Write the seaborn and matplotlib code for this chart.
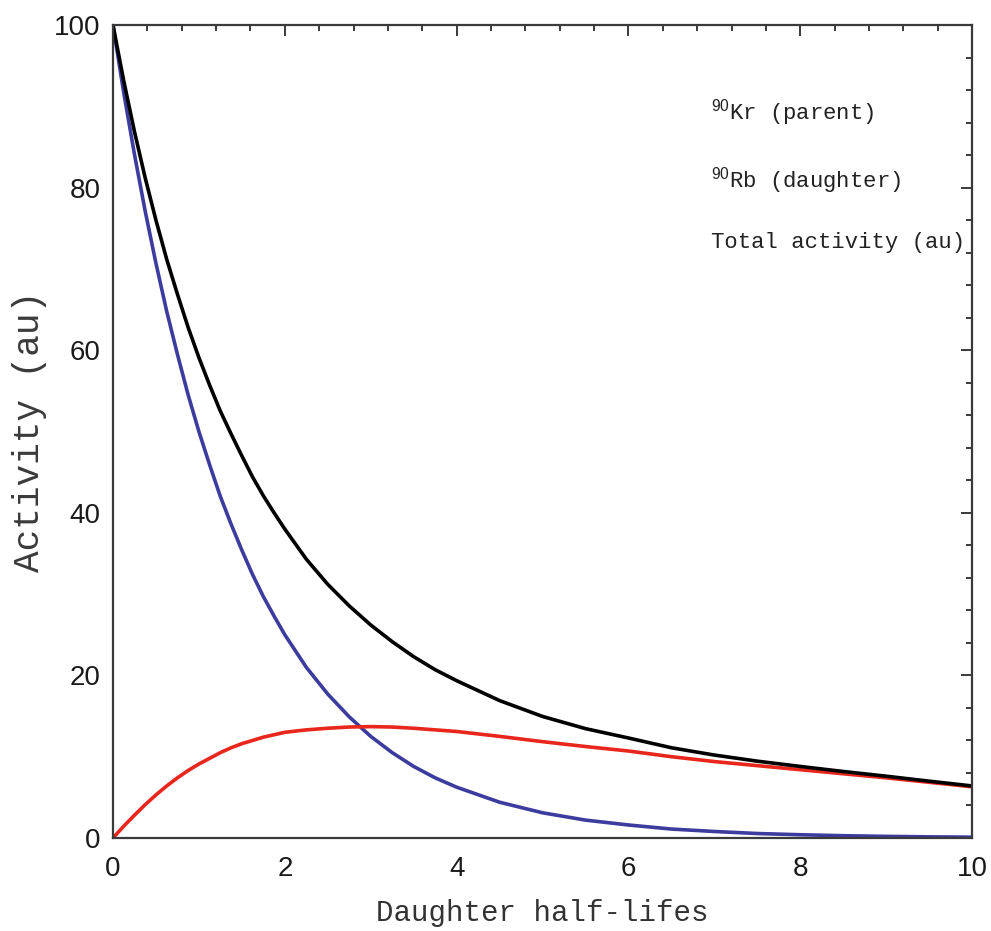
import numpy as np
import pandas as pd
import matplotlib
matplotlib.use("Agg")
import matplotlib.pyplot as plt
import seaborn as sns
from matplotlib.ticker import MultipleLocator

# Data
half_lives = [0, 0.125, 0.25, 0.375, 0.5, 0.625, 0.75, 0.875, 1, 1.125, 1.25,
              1.375, 1.5, 1.625, 1.75, 1.875, 2, 2.25, 2.5, 2.75, 3, 3.25, 3.5,
              3.75, 4, 4.5, 5, 5.5, 6, 6.5, 7, 7.5, 8, 8.5, 9, 9.5, 10]
parent_kr = [100, 91.7, 84.1, 77.1, 70.7, 64.8, 59.5, 54.5, 50.0, 45.9, 42.0,
             38.6, 35.4, 32.4, 29.7, 27.3, 25.0, 21.0, 17.7, 14.9, 12.5, 10.5, 8.8,
             7.4, 6.25, 4.4, 3.1, 2.2, 1.6, 1.1, 0.8, 0.55, 0.4, 0.28, 0.2, 0.14, 0.1]
daughter_rb = [0, 1.45, 2.8, 4.1, 5.3, 6.4, 7.4, 8.3, 9.1, 9.8, 10.5,
               11.1, 11.6, 12.0, 12.4, 12.7, 13.0, 13.3, 13.5, 13.65, 13.7, 13.65, 13.5,
               13.3, 13.1, 12.5, 11.85, 11.25, 10.7, 10.0, 9.4, 8.9, 8.4, 7.9, 7.4, 6.85, 6.3]
total_activity = [100, 93.15, 86.9, 81.2, 76.0, 71.2, 66.9, 62.8, 59.1, 55.7, 52.5,
                  49.7, 47.0, 44.4, 42.1, 40.0, 38.0, 34.3, 31.2, 28.55, 26.2, 24.15, 22.3,
                  20.7, 19.35, 16.9, 14.95, 13.45, 12.3, 11.1, 10.2, 9.45, 8.8, 8.18, 7.6, 6.99, 6.4]

labels = [r"$^{90}$Kr (parent)", r"$^{90}$Rb (daughter)", "Total activity (au)"]
colors = ["#3c3b9e", "#e8261c", "#000000"]

df = pd.concat([
    pd.DataFrame({"x": half_lives, "y": parent_kr, "series": labels[0]}),
    pd.DataFrame({"x": half_lives, "y": daughter_rb, "series": labels[1]}),
    pd.DataFrame({"x": half_lives, "y": total_activity, "series": labels[2]}),
], ignore_index=True)

sns.set_style("white")
plt.rcParams['font.family'] = ['Liberation Sans', 'DejaVu Sans']
plt.rcParams['mathtext.fontset'] = 'custom'
plt.rcParams['mathtext.rm'] = 'Liberation Sans'
plt.rcParams['mathtext.it'] = 'Liberation Sans'

fig = plt.figure(figsize=(9.91, 9.31), dpi=100)
ax = fig.add_axes([0.114, 0.0999, 0.867, 0.8732])

sns.lineplot(data=df, x="x", y="y", hue="series", hue_order=labels,
             palette=dict(zip(labels, colors)), linewidth=2.6, ax=ax,
             sort=False, estimator=None, solid_joinstyle="round",
             solid_capstyle="round")

ax.set_xlim(0, 10)
ax.set_ylim(0, 100)
ax.xaxis.set_major_locator(MultipleLocator(2))
ax.xaxis.set_minor_locator(MultipleLocator(0.4))
ax.yaxis.set_major_locator(MultipleLocator(20))
ax.yaxis.set_minor_locator(MultipleLocator(4))

edge = "#3a3a3a"
for s in ax.spines.values():
    s.set_color(edge)
    s.set_linewidth(1.6)
ax.tick_params(which="both", direction="in", top=True, right=True,
               color=edge, width=1.4, labelsize=20, labelcolor="#1a1a1a")
ax.tick_params(which="major", length=8)
ax.tick_params(which="minor", length=4.5)
ax.tick_params(axis="x", which="major", pad=13)
ax.tick_params(axis="y", which="major", pad=9)

ax.set_xlabel("Daughter half-lifes", family="Liberation Mono", fontsize=21,
              color="#333333", labelpad=12)
ax.set_ylabel("Activity (au)", family="Liberation Mono", fontsize=26,
              color="#3a3a3a", labelpad=5)

leg = ax.legend(loc="upper right", bbox_to_anchor=(1.015, 0.936), frameon=False,
                handlelength=0, handletextpad=0, labelspacing=1.65,
                prop={"family": "Liberation Mono", "size": 16})
for h in leg.legend_handles:
    h.set_visible(False)
for t in leg.get_texts():
    t.set_color("#222222")

fig.savefig("out.png", dpi=100)
